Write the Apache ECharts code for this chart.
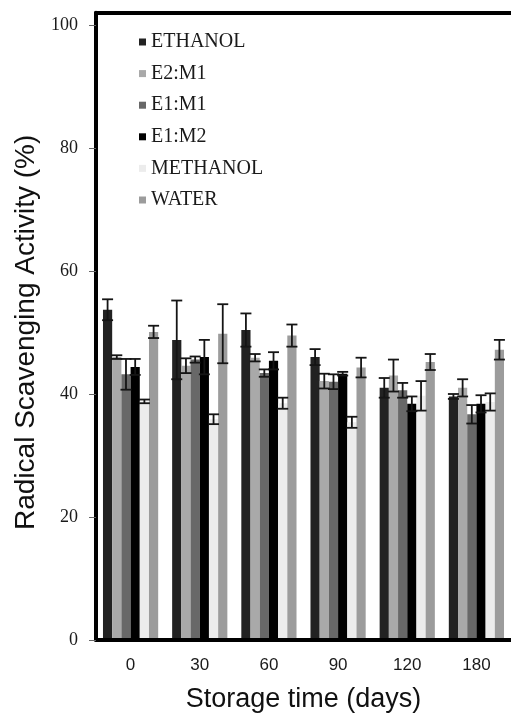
<!DOCTYPE html>
<html>
<head>
<meta charset="utf-8">
<script src="https://cdn.jsdelivr.net/npm/echarts@6/dist/echarts.min.js"></script>
<style>
  html, body { margin: 0; padding: 0; background: #fff; }
  #chart { width: 511px; height: 713px; }
</style>
</head>
<body>
<div id="chart"></div>
<script>
// storage time groups
var categories = ['0', '30', '60', '90', '120', '180'];
var yTicks = [0, 20, 40, 60, 80, 100];

// radical scavenging activity (%) and error per extract
var ethanol     = [53.7, 48.8, 50.4, 46.0, 41.0, 39.6];
var ethanolErr  = [1.7, 6.4, 2.7, 1.3, 1.6, 0.4];
var e2m1        = [46.0, 44.6, 45.9, 42.1, 43.0, 41.0];
var e2m1Err     = [0.3, 1.2, 0.6, 1.2, 2.6, 1.4];
var e1m1        = [43.2, 45.6, 43.4, 42.0, 40.6, 36.7];
var e1m1Err     = [2.5, 0.5, 0.6, 1.2, 1.2, 1.5];
var e1m2        = [44.4, 46.0, 45.4, 43.3, 38.4, 38.4];
var e1m2Err     = [1.3, 2.8, 1.4, 0.3, 1.2, 1.4];
var methanol    = [38.8, 35.9, 38.5, 35.4, 39.7, 38.7];
var methanolErr = [0.3, 0.8, 0.9, 0.9, 2.4, 1.4];
var water       = [50.1, 49.8, 49.5, 44.3, 45.2, 47.2];
var waterErr    = [1.0, 4.8, 1.8, 1.6, 1.3, 1.6];

var names  = ['ETHANOL', 'E2:M1', 'E1:M1', 'E1:M2', 'METHANOL', 'WATER'];
var values = [ethanol, e2m1, e1m1, e1m2, methanol, water];
var errors = [ethanolErr, e2m1Err, e1m1Err, e1m2Err, methanolErr, waterErr];
var colors = ['#222222', '#a9a9a9', '#686868', '#000000', '#ececec', '#9c9c9c'];

var barW = 9.2;

var chart = echarts.init(document.getElementById('chart'));

var series = [];
names.forEach(function (n, i) {
  series.push({
    name: n,
    type: 'bar',
    data: values[i],
    barWidth: barW,
    barGap: '0%',
    itemStyle: { color: colors[i] },
    z: 2
  });
});

// error bars drawn over the bars
names.forEach(function (n, i) {
  var errData = values[i].map(function (v, k) {
    return [k, v - errors[i][k], v + errors[i][k]];
  });
  series.push({
    name: n + ' err',
    type: 'custom',
    data: errData,
    z: 5,
    silent: true,
    renderItem: function (params, api) {
      var hi = api.coord([api.value(0), api.value(2)]);
      var lo = api.coord([api.value(0), api.value(1)]);
      var x = hi[0] + (i - 2.5) * barW;
      var cap = 5.5;
      var st = { stroke: '#151515', lineWidth: 1.8 };
      return {
        type: 'group',
        children: [
          { type: 'line', shape: { x1: x, y1: hi[1], x2: x, y2: lo[1] }, style: st },
          { type: 'line', shape: { x1: x - cap, y1: hi[1], x2: x + cap, y2: hi[1] }, style: st },
          { type: 'line', shape: { x1: x - cap, y1: lo[1], x2: x + cap, y2: lo[1] }, style: st }
        ]
      };
    }
  });
});

var option = {
  backgroundColor: '#fff',
  animation: false,
  grid: { left: 96, right: 0, top: 12.7, bottom: 73, outerBoundsMode: 'none' },
  legend: {
    data: names,
    orient: 'vertical',
    left: 134,
    top: 27,
    icon: 'rect',
    itemWidth: 7,
    itemHeight: 7,
    itemGap: 11.6,
    textStyle: {
      fontFamily: 'Liberation Serif',
      fontSize: 20,
      lineHeight: 20,
      color: '#1a1a1a'
    }
  },
  xAxis: [{
    type: 'category',
    data: categories,
    position: 'bottom',
    z: 10,
    axisLine: { lineStyle: { color: '#000', width: 4 } },
    axisTick: { show: false },
    axisLabel: {
      margin: 17,
      fontFamily: 'Liberation Sans',
      fontSize: 17,
      color: '#1a1a1a'
    },
    name: 'Storage time (days)',
    nameLocation: 'middle',
    nameGap: 46,
    nameTextStyle: { fontFamily: 'Liberation Sans', fontSize: 27, color: '#111' }
  }, {
    type: 'category',
    data: categories,
    position: 'top',
    z: 10,
    axisLine: { lineStyle: { color: '#000', width: 4 } },
    axisTick: { show: false },
    axisLabel: { show: false }
  }],
  yAxis: {
    type: 'value',
    min: 0,
    max: 102,
    z: 10,
    axisLine: { show: true, lineStyle: { color: '#000', width: 4 } },
    axisTick: {
      show: true,
      length: 7,
      customValues: yTicks,
      lineStyle: { color: '#666', width: 1 }
    },
    axisLabel: {
      customValues: yTicks,
      margin: 18,
      fontFamily: 'Liberation Serif',
      fontSize: 18,
      color: '#1a1a1a'
    },
    splitLine: { show: false },
    name: 'Radical Scavenging Activity (%)',
    nameLocation: 'middle',
    nameGap: 52,
    nameTextStyle: { fontFamily: 'Liberation Sans', fontSize: 28, color: '#111', padding: [0, 12, 0, 0] }
  },
  series: series
};

chart.setOption(option);
</script>
</body>
</html>
